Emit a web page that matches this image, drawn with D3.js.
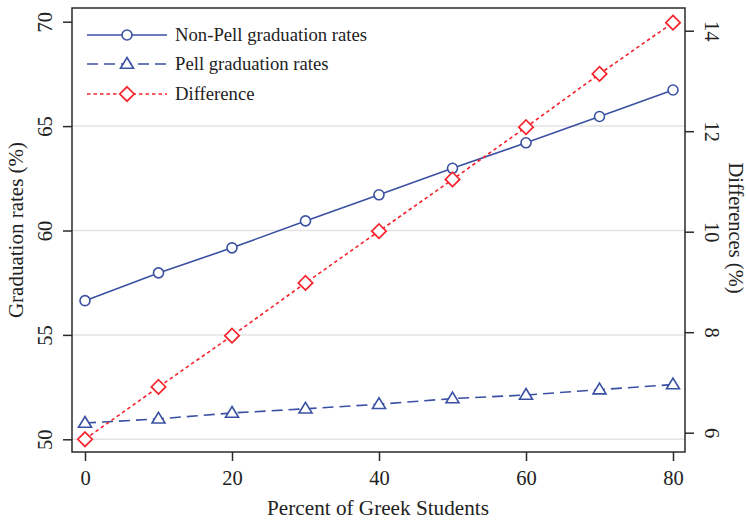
<!DOCTYPE html>
<html>
<head>
<meta charset="utf-8">
<script src="https://cdn.jsdelivr.net/npm/d3@7"></script>
<style>
  html, body { margin: 0; padding: 0; background: #fff; }
  svg { display: block; }
  text { font-family: "Liberation Serif", "DejaVu Serif", serif; fill: #222; }
</style>
</head>
<body>
<svg id="chart" width="746" height="520"></svg>
<script>
// ---- data ----
const greekPct = [0, 10, 20, 30, 40, 50, 60, 70, 80];
const nonPellRates = [56.64, 57.97, 59.17, 60.46, 61.71, 62.98, 64.20, 65.46, 66.73];
const pellRates = [50.78, 50.98, 51.26, 51.46, 51.68, 51.95, 52.12, 52.38, 52.62];
const differenceVals = [5.87, 6.91, 7.93, 8.98, 10.01, 11.04, 12.08, 13.14, 14.16];
const xTicks = [0, 20, 40, 60, 80];
const leftTicks = [50, 55, 60, 65, 70];
const rightTicks = [6, 8, 10, 12, 14];
const gridTicks = [50, 55, 60, 65];
const seriesNames = ["Non-Pell graduation rates", "Pell graduation rates", "Difference"];

const blue = "#3a50a2";
const red = "#f5222b";
const axisCol = "#2a2a2a";

const svg = d3.select("#chart");
const frame = { left: 72, right: 685, top: 8, bottom: 452 };

const x = d3.scaleLinear().domain([0, 80]).range([85, 673]);
const yL = d3.scaleLinear().domain([50, 70]).range([439.3, 21.7]);
const yR = d3.scaleLinear().domain([6, 14]).range([432.7, 30.7]);

// gridlines
svg.append("g").selectAll("line").data(gridTicks).join("line")
  .attr("x1", frame.left).attr("x2", frame.right)
  .attr("y1", d => yL(d)).attr("y2", d => yL(d))
  .attr("stroke", "#e3e3e3").attr("stroke-width", 1.5);

// axes
const tickFont = 20.5;
const gx = svg.append("g").attr("transform", `translate(0,${frame.bottom})`)
  .call(d3.axisBottom(x).tickValues(xTicks).tickSize(9).tickPadding(8).tickFormat(d3.format("d")));
const gl = svg.append("g").attr("transform", `translate(${frame.left},0)`)
  .call(d3.axisLeft(yL).tickValues(leftTicks).tickSize(9).tickFormat(d3.format("d")));
const gr = svg.append("g").attr("transform", `translate(${frame.right},0)`)
  .call(d3.axisRight(yR).tickValues(rightTicks).tickSize(9).tickFormat(d3.format("d")));

[gx, gl, gr].forEach(g => {
  g.select(".domain").remove();
  g.selectAll(".tick line").attr("stroke", axisCol).attr("stroke-width", 1.5);
  g.selectAll(".tick text").attr("font-size", tickFont).attr("fill", "#222")
    .attr("font-family", "Liberation Serif, serif");
});
gx.selectAll(".tick text").attr("dy", null).attr("y", 33);
gl.selectAll(".tick text")
  .attr("x", null).attr("dy", null)
  .attr("transform", "translate(-20,0) rotate(-90)")
  .attr("text-anchor", "middle").attr("y", 0).attr("dy", 0);
gr.selectAll(".tick text")
  .attr("x", null).attr("dy", null)
  .attr("transform", "translate(20,0) rotate(90)")
  .attr("text-anchor", "middle").attr("y", 0).attr("dy", 0);

// frame
svg.append("rect")
  .attr("x", frame.left).attr("y", frame.top)
  .attr("width", frame.right - frame.left).attr("height", frame.bottom - frame.top)
  .attr("fill", "none").attr("stroke", axisCol).attr("stroke-width", 1.5);

// axis titles
svg.append("text").attr("x", 378).attr("y", 515)
  .attr("text-anchor", "middle").attr("font-size", 21.2).text("Percent of Greek Students");
svg.append("text").attr("transform", "translate(23,230) rotate(-90)")
  .attr("text-anchor", "middle").attr("font-size", 21).text("Graduation rates (%)");
svg.append("text").attr("transform", "translate(729,228) rotate(90)")
  .attr("text-anchor", "middle").attr("font-size", 20.5).text("Differences (%)");

// markers
function circleMarker(g, cx, cy) {
  g.append("circle").attr("cx", cx).attr("cy", cy).attr("r", 5)
    .attr("fill", "#fff").attr("stroke", blue).attr("stroke-width", 1.6);
}
function triMarker(g, cx, cy) {
  const s = 6.5;
  g.append("path")
    .attr("d", `M${cx},${cy - s} L${cx + s},${cy + s * 0.65} L${cx - s},${cy + s * 0.65} Z`)
    .attr("fill", "#fff").attr("stroke", blue).attr("stroke-width", 1.6);
}
function diaMarker(g, cx, cy) {
  const s = 7.2;
  g.append("path")
    .attr("d", `M${cx},${cy - s} L${cx + s},${cy} L${cx},${cy + s} L${cx - s},${cy} Z`)
    .attr("fill", "#fff").attr("stroke", red).attr("stroke-width", 1.7);
}

const line = (ys, scale) => d3.line().x((d, i) => x(greekPct[i])).y(d => scale(d))(ys);

const plot = svg.append("g");
// Pell
plot.append("path").attr("d", line(pellRates, yL)).attr("fill", "none")
  .attr("stroke", blue).attr("stroke-width", 1.6).attr("stroke-dasharray", "11,6");
// Non-Pell
plot.append("path").attr("d", line(nonPellRates, yL)).attr("fill", "none")
  .attr("stroke", blue).attr("stroke-width", 1.6);
// Difference
plot.append("path").attr("d", line(differenceVals, yR)).attr("fill", "none")
  .attr("stroke", red).attr("stroke-width", 1.6).attr("stroke-dasharray", "3.5,3");

const mk = svg.append("g");
pellRates.forEach((v, i) => triMarker(mk, x(greekPct[i]), yL(v)));
nonPellRates.forEach((v, i) => circleMarker(mk, x(greekPct[i]), yL(v)));
differenceVals.forEach((v, i) => diaMarker(mk, x(greekPct[i]), yR(v)));

// legend
const leg = svg.append("g");
const legRows = [35, 64, 94];
const lx1 = 87, lx2 = 167, lmx = 127;
// row 1
leg.append("line").attr("x1", lx1).attr("x2", lx2).attr("y1", legRows[0]).attr("y2", legRows[0])
  .attr("stroke", blue).attr("stroke-width", 1.6);
circleMarker(leg, lmx, legRows[0]);
// row 2
leg.append("line").attr("x1", lx1).attr("x2", lx2).attr("y1", legRows[1]).attr("y2", legRows[1])
  .attr("stroke", blue).attr("stroke-width", 1.6).attr("stroke-dasharray", "11,6");
triMarker(leg, lmx, legRows[1]);
// row 3
leg.append("line").attr("x1", lx1).attr("x2", lx2).attr("y1", legRows[2]).attr("y2", legRows[2])
  .attr("stroke", red).attr("stroke-width", 1.6).attr("stroke-dasharray", "3.5,3");
diaMarker(leg, lmx, legRows[2]);
seriesNames.forEach((n, i) => {
  leg.append("text").attr("x", 175).attr("y", legRows[i] + 6)
    .attr("font-size", 18.7).text(n);
});
</script>
</body>
</html>
